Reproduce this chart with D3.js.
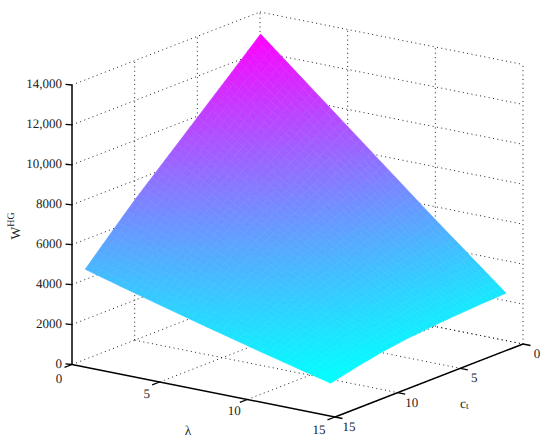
<!DOCTYPE html>
<html><head><meta charset="utf-8">
<script src="https://cdn.jsdelivr.net/npm/d3@7"></script>
<style>html,body{margin:0;padding:0;background:#fff}svg{display:block}text{font-family:"Liberation Serif";fill:#222;text-rendering:geometricPrecision}</style>
</head><body><svg id="c" width="550" height="443"></svg>
<script>
const lambdaTicks=[0,5,10,15];
const ctTicks=[0,5,10,15];
const wTicks=[0,2000,4000,6000,8000,10000,12000,14000];
const wTickLabels=["0","2000","4000","6000","8000","10,000","12,000","14,000"];
const lambdaValues=[0.75,2.75,4.75,6.75,8.75,10.75,12.75,14.75];
const ctValues=[1,3,5,7,9,11,13,15];
// one row per lambda value, one column per c_t value
const W0=[13270,12100,10930,9760,8600,7436,6180,4900];
const W1=[11755,10746,9732,8712,7696,6664,5549,4406];
const W2=[10240,9393,8535,7667,6798,5900,4926,3921];
const W3=[8725,8042,7344,6629,5907,5144,4315,3447];
const W4=[7210,6692,6154,5593,5020,4393,3710,2983];
const W5=[5695,5344,4969,4564,4141,3652,3117,2529];
const W6=[4225,4010,3775,3520,3245,2920,2520,2084];
const W7=[2745,2690,2610,2515,2385,2200,1945,1650];
const W=[W0,W1,W2,W3,W4,W5,W6,W7];

const svg=d3.select("#c");
const lx=d3.scaleLinear().domain([0,15]).range([0,263]);
const ly=d3.scaleLinear().domain([0,15]).range([0,52.5]);
const cx=d3.scaleLinear().domain([15,0]).range([0,188]);
const cy=d3.scaleLinear().domain([15,0]).range([0,-73]);
const zy=d3.scaleLinear().domain([0,14000]).range([0,-279.5]);
const P=(l,c,z)=>[72+lx(l)+cx(c),364.5+ly(l)+cy(c)+zy(z)];
const cool=d3.scaleLinear().domain(d3.extent(W.flat())).range([0,1]);
const col=z=>{const t=cool(z);return d3.rgb(255*t,255*(1-t),255).formatHex();};
const line=(a,b,stroke,w,dash)=>svg.append("line").attr("x1",a[0]).attr("y1",a[1]).attr("x2",b[0]).attr("y2",b[1])
  .attr("stroke",stroke).attr("stroke-width",w).attr("stroke-dasharray",dash||null);
const dot=(a,b)=>line(a,b,"#222",1,"1 3.4");

// dotted grid on the walls and floor
wTicks.forEach(z=>{dot(P(0,15,z),P(0,0,z));dot(P(0,0,z),P(15,0,z));});
ctTicks.filter(c=>c<15).forEach(c=>{dot(P(0,c,0),P(0,c,14000));dot(P(0,c,0),P(15,c,0));});
lambdaTicks.filter(l=>l>0).forEach(l=>{dot(P(l,0,0),P(l,0,14000));dot(P(l,15,0),P(l,0,0));});

// surface with interpolated shading inside each data cell
const sub=6,polys=[];
for(let i=0;i<lambdaValues.length-1;i++)for(let j=0;j<ctValues.length-1;j++)
 for(let a=0;a<sub;a++)for(let b=0;b<sub;b++){
  const f=(s,t)=>{const u=(a+s)/sub,v=(b+t)/sub;
    const z=(1-u)*(1-v)*W[i][j]+u*(1-v)*W[i+1][j]+(1-u)*v*W[i][j+1]+u*v*W[i+1][j+1];
    return {z,p:P(lambdaValues[i]+u*(lambdaValues[i+1]-lambdaValues[i]),ctValues[j]+v*(ctValues[j+1]-ctValues[j]),z)};};
  const q=[f(0,0),f(1,0),f(1,1),f(0,1)];
  polys.push({pts:q.map(d=>d.p),z:d3.mean(q,d=>d.z)});
 }
svg.append("g").selectAll("polygon").data(polys).join("polygon")
 .attr("points",d=>d.pts.map(p=>p.join(",")).join(" "))
 .attr("fill",d=>col(d.z)).attr("stroke",d=>col(d.z)).attr("stroke-width",0.6);

// axes
const AX="#000",AW=1.5;
line(P(0,15,0),P(0,15,14000),AX,AW);
line(P(0,15,0),P(15,15,0),AX,AW);
line(P(15,15,0),P(15,0,0),AX,AW);
wTicks.forEach(z=>{const a=P(0,15,z);line(a,[a[0]-6.5,a[1]-0.6],AX,1.3);});
lambdaTicks.forEach(l=>{const a=P(l,15,0);line(a,[a[0]-7.5,a[1]+2.8],AX,1.3);});
ctTicks.forEach(c=>{const a=P(15,c,0);line(a,[a[0]+7.5,a[1]+1.5],AX,1.3);});

const txt=(s,x,y,size,anchor)=>svg.append("text").attr("x",x).attr("y",y).attr("font-size",size).attr("text-anchor",anchor||"middle").attr("dominant-baseline","central").text(s);
wTicks.forEach((z,i)=>{const a=P(0,15,z);txt(wTickLabels[i],a[0]-10,a[1]-1.5,13,"end");});
const lblL=[[-13,13.5],[-13,11],[-13,11],[-16,12]];
lambdaTicks.forEach((l,i)=>{const a=P(l,15,0);txt(String(l),a[0]+lblL[i][0],a[1]+lblL[i][1],13);});
ctTicks.forEach(c=>{const a=P(15,c,0);txt(String(c),a[0]+14,a[1]+9.5,13);});
txt("λ",188,430,13.5);
const ct=svg.append("text").attr("x",460).attr("y",403).attr("font-size",13.5).attr("dominant-baseline","central");
ct.append("tspan").text("c");
ct.append("tspan").attr("font-size",9.5).attr("dy",4).text("t");
const wl=svg.append("text").attr("transform","translate(15,226) rotate(-90)").attr("font-size",13.5).attr("text-anchor","middle").attr("dominant-baseline","central");
wl.append("tspan").text("W");
wl.append("tspan").attr("font-size",10).attr("dy",-4).text("HG");
</script></body></html>
